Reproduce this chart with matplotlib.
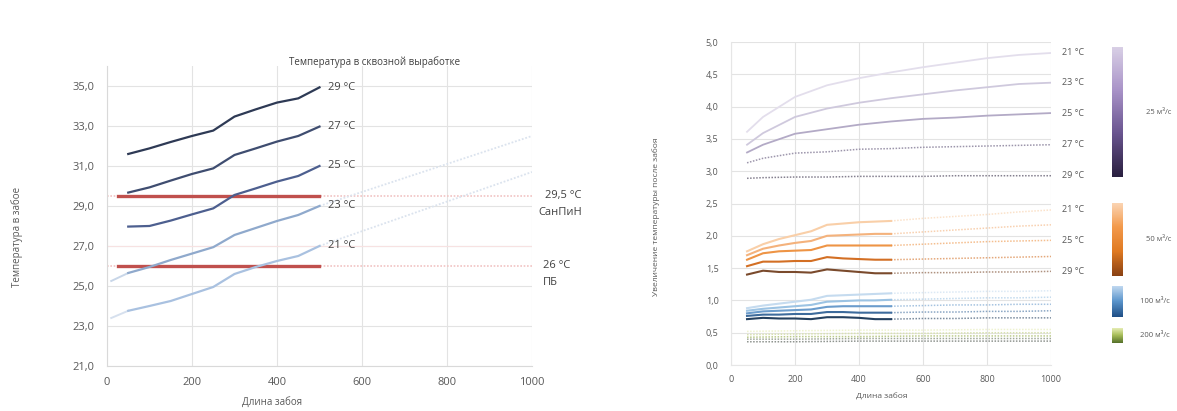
import numpy as np
import matplotlib
matplotlib.use('Agg')
import matplotlib.pyplot as plt
from matplotlib.colors import LinearSegmentedColormap
from matplotlib.ticker import FuncFormatter

plt.rcParams['font.family'] = ['Open Sans', 'DejaVu Sans']

# ---- левый график: температура в забое ----
X_SHORT = [50, 100, 150, 200, 250, 300, 350, 400, 450, 500]
LEFT_TEMPS = ['29 °C', '27 °C', '25 °C', '23 °C', '21 °C']
T29 = [31.60, 31.88, 32.20, 32.50, 32.77, 33.47, 33.83, 34.17, 34.38, 34.93]
T27 = [29.67, 29.93, 30.27, 30.60, 30.88, 31.55, 31.88, 32.22, 32.50, 32.97]
T25 = [27.97, 28.00, 28.27, 28.58, 28.88, 29.55, 29.88, 30.22, 30.50, 31.00]
T23 = [25.65, 25.95, 26.30, 26.62, 26.94, 27.55, 27.90, 28.25, 28.55, 29.00]
T21 = [23.76, 24.00, 24.25, 24.60, 24.95, 25.60, 25.95, 26.25, 26.50, 27.00]
LEFT_SERIES = [T29, T27, T25, T23, T21]

# продолжения (светлые) для 23 и 21 °C
X_LEAD = [10, 50]
T23_LEAD = [25.25, 25.65]
T21_LEAD = [23.40, 23.76]
X_TAIL = [500, 1000]
T23_TAIL = [29.00, 32.50]
T21_TAIL = [27.00, 30.70]

SANPIN = 29.5
PB = 26.0

# ---- правый график: увеличение температуры после забоя ----
X_R = [50, 100, 150, 200, 250, 300, 350, 400, 450, 500]
X_R_TAIL = [500, 600, 700, 800, 900, 1000]
RIGHT_TEMPS = ['21 °C', '23 °C', '25 °C', '27 °C', '29 °C']

# 25 м3 — весь диапазон 50..1000
X_P = [50, 100, 200, 300, 400, 500, 600, 700, 800, 900, 1000]
P21 = [3.61, 3.84, 4.15, 4.33, 4.44, 4.53, 4.61, 4.68, 4.75, 4.80, 4.83]
P23 = [3.41, 3.59, 3.84, 3.97, 4.06, 4.13, 4.19, 4.25, 4.30, 4.35, 4.37]
P25 = [3.29, 3.41, 3.58, 3.65, 3.72, 3.77, 3.81, 3.83, 3.86, 3.88, 3.90]
P27 = [3.13, 3.20, 3.28, 3.30, 3.34, 3.35, 3.37, 3.38, 3.39, 3.40, 3.41]
P29 = [2.89, 2.90, 2.91, 2.91, 2.92, 2.92, 2.92, 2.93, 2.93, 2.93, 2.93]
PURPLE = [P21, P23, P25, P27, P29]

# 50 м3
O21 = [1.76, 1.87, 1.95, 2.01, 2.07, 2.17, 2.19, 2.21, 2.22, 2.23]
O23 = [1.70, 1.80, 1.85, 1.89, 1.92, 2.00, 2.01, 2.02, 2.03, 2.03]
O25 = [1.63, 1.73, 1.76, 1.77, 1.78, 1.85, 1.85, 1.85, 1.85, 1.85]
O27 = [1.53, 1.60, 1.60, 1.61, 1.61, 1.67, 1.65, 1.64, 1.63, 1.63]
O29 = [1.40, 1.46, 1.44, 1.44, 1.43, 1.48, 1.46, 1.44, 1.42, 1.42]
ORANGE = [O21, O23, O25, O27, O29]
ORANGE_TAIL = [[2.23, 2.27, 2.30, 2.33, 2.37, 2.40],
               [2.03, 2.06, 2.09, 2.12, 2.15, 2.17],
               [1.85, 1.87, 1.89, 1.91, 1.92, 1.93],
               [1.63, 1.64, 1.65, 1.66, 1.67, 1.68],
               [1.42, 1.43, 1.43, 1.44, 1.44, 1.45]]

# 100 м3
B21 = [0.88, 0.92, 0.95, 0.98, 1.01, 1.07, 1.08, 1.09, 1.10, 1.11]
B23 = [0.84, 0.87, 0.89, 0.91, 0.93, 0.98, 0.99, 1.00, 1.00, 1.01]
B25 = [0.80, 0.83, 0.84, 0.85, 0.86, 0.90, 0.91, 0.91, 0.91, 0.91]
B27 = [0.76, 0.78, 0.78, 0.79, 0.79, 0.82, 0.82, 0.81, 0.81, 0.81]
B29 = [0.71, 0.73, 0.72, 0.72, 0.71, 0.74, 0.74, 0.73, 0.71, 0.71]
BLUE = [B21, B23, B25, B27, B29]
BLUE_TAIL = [[1.11, 1.12, 1.13, 1.14, 1.14, 1.15],
             [1.01, 1.02, 1.03, 1.04, 1.04, 1.05],
             [0.91, 0.92, 0.93, 0.93, 0.94, 0.94],
             [0.81, 0.82, 0.82, 0.83, 0.83, 0.84],
             [0.71, 0.72, 0.72, 0.73, 0.73, 0.73]]

# 200 м3
X_G = [50, 200, 400, 600, 800, 1000]
GREEN = [[0.52, 0.53, 0.54, 0.54, 0.55, 0.55],
         [0.47, 0.48, 0.49, 0.49, 0.50, 0.50],
         [0.43, 0.44, 0.44, 0.45, 0.45, 0.45],
         [0.40, 0.40, 0.41, 0.41, 0.41, 0.41],
         [0.36, 0.36, 0.37, 0.37, 0.37, 0.37]]

FLOWS = ['25 м³/с', '50 м³/с', '100 м³/с', '200 м³/с']

# цвета
LEFT_COLORS = ['#2e3a55', '#3f4d70', '#4d5f8f', '#8fa9cc', '#a9c1e0']
LEFT_LIGHT = '#dbe3ee'
RED = '#c0504d'
PURPLE_C = ['#e3deec', '#cfc9dd', '#b3aac6', '#9c95ab', '#85808f']
ORANGE_C = ['#f9cfa8', '#f4b27c', '#ee9445', '#d36f24', '#7a4a2c']
BLUE_C = ['#c5dbef', '#9cc3e3', '#6b9ccc', '#3d6b9c', '#24405f']
GREEN_C = ['#eef2d0', '#d9e2b0', '#bccb8c', '#a0a89a', '#8f948f']
TXT = '#595959'
GRID = '#e3e3e3'

fig = plt.figure(figsize=(11.77, 4.11), dpi=100)

# ================= левый =================
ax = fig.add_axes([0.0909, 0.1095, 0.3611, 0.7300])
ax.set_xlim(0, 1000)
ax.set_ylim(21, 36)

ax.plot([0, 1000], [SANPIN, SANPIN], color='#f1c4c3', lw=1.2, ls=(0, (1, 1)), zorder=1)
ax.plot([0, 1000], [PB, PB], color='#f1c4c3', lw=1.2, ls=(0, (1, 1)), zorder=1)
ax.plot([0, 1000], [27, 27], color='#f7e2e2', lw=0.8, zorder=1)
ax.plot([25, 500], [SANPIN, SANPIN], color=RED, lw=2.4, zorder=2)
ax.plot([25, 500], [PB, PB], color=RED, lw=2.4, zorder=2)

ax.plot(X_LEAD, T23_LEAD, color='#c8d6e8', lw=1.4, zorder=3)
ax.plot(X_LEAD, T21_LEAD, color='#d6e0ee', lw=1.4, zorder=3)
ax.plot(X_TAIL, T23_TAIL, color=LEFT_LIGHT, lw=1.3, ls=(0, (1, 1)), zorder=3)
ax.plot(X_TAIL, T21_TAIL, color=LEFT_LIGHT, lw=1.3, ls=(0, (1, 1)), zorder=3)

for ys, c, lab in zip(LEFT_SERIES, LEFT_COLORS, LEFT_TEMPS):
    ax.plot(X_SHORT, ys, color=c, lw=1.6, zorder=4)
    ax.text(520, ys[-1], lab, fontsize=8, color='#404040', va='center', ha='left')

ax.text(1030, SANPIN, '29,5 °C', fontsize=8, color='#404040', va='center', ha='left', clip_on=False)
ax.text(1016, SANPIN - 0.85, 'СанПиН', fontsize=8, color='#404040', va='center', ha='left', clip_on=False)
ax.text(1025, PB, '26 °C', fontsize=8, color='#404040', va='center', ha='left', clip_on=False)
ax.text(1025, PB - 0.85, 'ПБ', fontsize=8, color='#404040', va='center', ha='left', clip_on=False)
ax.text(630, 36.2, 'Температура в сквозной выработке', fontsize=7, color='#404040',
        ha='center', va='center', clip_on=False)

ax.set_xticks(range(0, 1001, 200))
ax.set_yticks(range(21, 36, 2))
ax.yaxis.set_major_formatter(FuncFormatter(lambda v, p: f'{v:.1f}'.replace('.', ',')))
ax.grid(True, color=GRID, lw=0.8)
ax.set_axisbelow(True)
for s in ['top', 'right']:
    ax.spines[s].set_visible(False)
for s in ['left', 'bottom']:
    ax.spines[s].set_color('#d9d9d9')
ax.tick_params(length=0, labelsize=8, colors=TXT)
ax.tick_params(axis='y', pad=9)
ax.tick_params(axis='x', pad=8)

fig.text(17 / 1177, 1 - 237 / 411, 'Температура в забое', rotation=90, fontsize=7,
         color=TXT, ha='center', va='center')
fig.text(272 / 1177, 1 - 402 / 411, 'Длина забоя', fontsize=7, color=TXT,
         ha='center', va='center')

# ================= правый =================
ax2 = fig.add_axes([0.6211, 0.1119, 0.2719, 0.7859])
ax2.set_xlim(0, 1000)
ax2.set_ylim(0, 5)

for ys, c in zip(GREEN, GREEN_C):
    ax2.plot(X_G, ys, color=c, lw=1.1, ls=(0, (1, 1)), zorder=2)

for ys, tail, c in zip(BLUE, BLUE_TAIL, BLUE_C):
    ax2.plot(X_R, ys, color=c, lw=1.5, zorder=3)
    ax2.plot(X_R_TAIL, tail, color=c, lw=1.1, ls=(0, (1, 1)), alpha=0.6, zorder=3)

for ys, tail, c in zip(ORANGE, ORANGE_TAIL, ORANGE_C):
    ax2.plot(X_R, ys, color=c, lw=1.5, zorder=3)
    ax2.plot(X_R_TAIL, tail, color=c, lw=1.1, ls=(0, (1, 1)), alpha=0.6, zorder=3)

for i, (ys, c) in enumerate(zip(PURPLE, PURPLE_C)):
    if i < 3:
        ax2.plot(X_P, ys, color=c, lw=1.3, zorder=3)
    else:
        ax2.plot(X_P, ys, color=c, lw=1.1, ls=(0, (1, 1)), zorder=3)

for ys, lab in zip(PURPLE, RIGHT_TEMPS):
    ax2.text(1035, ys[-1], lab, fontsize=6.5, color=TXT, va='center', ha='left', clip_on=False)
for idx in [0, 2, 4]:
    ax2.text(1035, ORANGE_TAIL[idx][-1], RIGHT_TEMPS[idx], fontsize=6.5, color=TXT,
             va='center', ha='left', clip_on=False)

ax2.set_xticks(range(0, 1001, 200))
ax2.set_yticks(np.arange(0, 5.01, 0.5))
ax2.yaxis.set_major_formatter(FuncFormatter(lambda v, p: f'{v:.1f}'.replace('.', ',')))
ax2.grid(True, color=GRID, lw=0.8)
ax2.set_axisbelow(True)
for s in ['top', 'right']:
    ax2.spines[s].set_visible(False)
for s in ['left', 'bottom']:
    ax2.spines[s].set_color('#e6e6e6')
ax2.tick_params(length=0, labelsize=6.5, colors=TXT)
ax2.tick_params(axis='y', pad=9)
ax2.tick_params(axis='x', pad=7)

fig.text(656 / 1177, 1 - 217 / 411, 'Увеличение температуры после забоя', rotation=90,
         fontsize=6, color=TXT, ha='center', va='center')
fig.text(882 / 1177, 1 - 397 / 411, 'Длина забоя', fontsize=6, color=TXT,
         ha='center', va='center')

# шкалы-легенды расхода
CMAPS = [
    LinearSegmentedColormap.from_list('p', ['#d9d0e6', '#a993c8', '#6a5590', '#2a2040']),
    LinearSegmentedColormap.from_list('o', ['#fbd6b6', '#f39a4c', '#e07a22', '#8a4214']),
    LinearSegmentedColormap.from_list('b', ['#c6dcf2', '#5b95cc', '#1f4f86']),
    LinearSegmentedColormap.from_list('g', ['#eef3c0', '#a8be5a', '#55712a']),
]
BAR_SPANS = [(47, 177), (203, 276), (286, 317), (328, 343)]
LABEL_X = [1146, 1146, 1140, 1140]
grad = np.linspace(0, 1, 64).reshape(-1, 1)
for cm, (y0, y1), lab, lx in zip(CMAPS, BAR_SPANS, FLOWS, LABEL_X):
    cax = fig.add_axes([1112 / 1177, 1 - y1 / 411, 11 / 1177, (y1 - y0) / 411])
    cax.imshow(grad, aspect='auto', cmap=cm)
    cax.set_axis_off()
    fig.text(lx / 1177, 1 - (y0 + y1) / 2 / 411, lab, fontsize=5.5, color=TXT,
             ha='left', va='center')

fig.savefig('out.png', dpi=100, facecolor='white')
